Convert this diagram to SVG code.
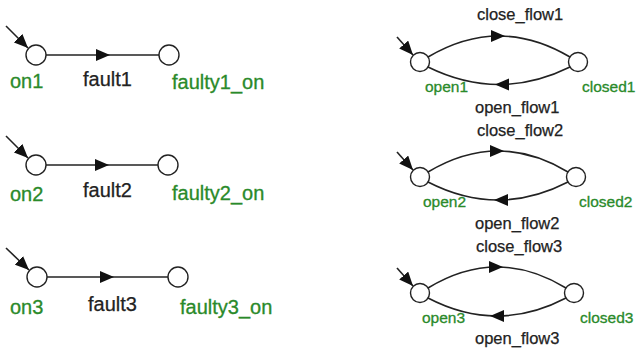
<svg xmlns="http://www.w3.org/2000/svg" xmlns:xlink="http://www.w3.org/1999/xlink" width="637" height="351" viewBox="0 0 637 351">
<style>
.st{fill:#fff;stroke:#222;stroke-width:1.4}
.ed{fill:none;stroke:#222;stroke-width:1.6}
.lb{font-family:"Liberation Sans",Arial,sans-serif;fill:#2a8a2a;stroke:#2a8a2a;stroke-width:0.3}
.lL{font-size:20px}
.lR{font-size:15.5px}
.ev{font-family:"Liberation Sans",Arial,sans-serif;fill:#222;stroke:#222;stroke-width:0.25}
.eL{font-size:20px}
.eR{font-size:16.5px}
.ah{fill:#111}
</style>
<defs>
<path id="tri" d="M0,0 L-14,-6 L-14,6 Z"/>
<marker id="init" viewBox="0 0 14 12" refX="14" refY="6" markerWidth="14" markerHeight="12" markerUnits="userSpaceOnUse" orient="auto"><path d="M0,0 L14,6 L0,12 Z" fill="#111"/></marker>
</defs>
<rect width="637" height="351" fill="#fff"/>
<g id="connectors">
<line class="ed" x1="6" y1="26" x2="28" y2="48" marker-end="url(#init)"/>
<line class="ed" x1="6" y1="136" x2="28" y2="158" marker-end="url(#init)"/>
<line class="ed" x1="6" y1="248" x2="29" y2="270" marker-end="url(#init)"/>
<line class="ed" x1="46" y1="55" x2="159" y2="55"/>
<use href="#tri" class="ah" transform="translate(110,55)"/>
<line class="ed" x1="46" y1="165" x2="158" y2="165"/>
<use href="#tri" class="ah" transform="translate(109,165)"/>
<line class="ed" x1="47" y1="277" x2="168" y2="277"/>
<use href="#tri" class="ah" transform="translate(114,277)"/>
<line class="ed" x1="397" y1="37" x2="413" y2="55" marker-end="url(#init)"/>
<line class="ed" x1="397" y1="152" x2="413" y2="170" marker-end="url(#init)"/>
<line class="ed" x1="397" y1="268" x2="413" y2="286" marker-end="url(#init)"/>
<path class="ed" d="M428,57 Q499,15 570,57"/>
<use href="#tri" class="ah" transform="translate(505,36)"/>
<path class="ed" d="M428,67 Q499,102 570,67"/>
<use href="#tri" class="ah" transform="translate(495,84.5) rotate(180)"/>
<path class="ed" d="M428,172 Q498,130 568,172"/>
<use href="#tri" class="ah" transform="translate(504,151)"/>
<path class="ed" d="M428,182 Q498,218 568,182"/>
<use href="#tri" class="ah" transform="translate(494,200) rotate(180)"/>
<path class="ed" d="M428,288 Q497,246 566,288"/>
<use href="#tri" class="ah" transform="translate(503,267)"/>
<path class="ed" d="M428,298 Q497,334 566,298"/>
<use href="#tri" class="ah" transform="translate(490,316) rotate(180)"/>
</g>
<g id="on1"><circle class="st" cx="36" cy="55" r="10"/><text class="lb lL" x="10" y="88">on1</text></g>
<g id="faulty1_on"><circle class="st" cx="169" cy="55" r="10"/><text class="lb lL" x="172" y="89">faulty1_on</text></g>
<g id="on2"><circle class="st" cx="36" cy="165" r="10"/><text class="lb lL" x="10" y="201">on2</text></g>
<g id="faulty2_on"><circle class="st" cx="168" cy="165" r="10"/><text class="lb lL" x="172" y="200">faulty2_on</text></g>
<g id="on3"><circle class="st" cx="37" cy="277" r="10"/><text class="lb lL" x="10" y="314">on3</text></g>
<g id="faulty3_on"><circle class="st" cx="178" cy="277" r="10"/><text class="lb lL" x="180" y="314">faulty3_on</text></g>
<g id="open1"><circle class="st" cx="420" cy="62" r="9.5"/><text class="lb lR" x="425" y="92">open1</text></g>
<g id="closed1"><circle class="st" cx="578" cy="62" r="9.5"/><text class="lb lR" x="582" y="92">closed1</text></g>
<g id="open2"><circle class="st" cx="420" cy="177" r="9.5"/><text class="lb lR" x="423" y="207">open2</text></g>
<g id="closed2"><circle class="st" cx="576" cy="177" r="9.5"/><text class="lb lR" x="579" y="207">closed2</text></g>
<g id="open3"><circle class="st" cx="420" cy="293" r="9.5"/><text class="lb lR" x="422" y="323">open3</text></g>
<g id="closed3"><circle class="st" cx="574" cy="293" r="9.5"/><text class="lb lR" x="580" y="323">closed3</text></g>
<g id="labels">
<text class="ev eL" x="83" y="86">fault1</text>
<text class="ev eL" x="83" y="197">fault2</text>
<text class="ev eL" x="88" y="311">fault3</text>
<text class="ev eR" x="477" y="20">close_flow1</text>
<text class="ev eR" x="475" y="113">open_flow1</text>
<text class="ev eR" x="477" y="136">close_flow2</text>
<text class="ev eR" x="475" y="229">open_flow2</text>
<text class="ev eR" x="476" y="252">close_flow3</text>
<text class="ev eR" x="475" y="344">open_flow3</text>
</g>
</svg>
